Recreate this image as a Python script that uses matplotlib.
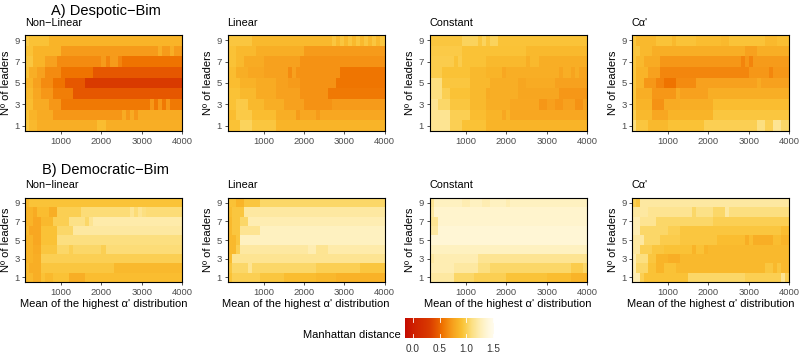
#!/usr/bin/env python3
"""Manhattan distance heatmaps: number of leaders vs mean of the highest alpha' distribution."""

import matplotlib

matplotlib.use("Agg")
import matplotlib.pyplot as plt
import numpy as np
from matplotlib.colors import LinearSegmentedColormap

plt.rcParams["font.family"] = ["Liberation Sans", "DejaVu Sans"]

# x bins of the simulation grid (mean of the highest alpha' distribution)
X_BINS = np.arange(100, 4001, 100)
LEADERS = [1, 2, 3, 4, 5, 6, 7, 8, 9]

# every row (leaders 1..9) is a list of (x where a run starts, Manhattan distance)
DESP_NONLIN = [
    [(100, 0.95), (200, 0.88), (400, 0.82), (1900, 0.9), (2100, 0.82)],
    [(100, 0.92), (200, 0.85), (400, 0.8), (800, 0.7), (2500, 0.8), (2600, 0.7), (2700, 0.8), (2800, 0.7), (2900, 0.8)],
    [(100, 0.9), (300, 0.8), (700, 0.7), (1000, 0.58), (3200, 0.7), (3300, 0.58), (3400, 0.7), (3500, 0.58), (3600, 0.7), (3700, 0.58)],
    [(100, 0.88), (300, 0.78), (500, 0.7), (800, 0.6), (1300, 0.45)],
    [(100, 0.85), (300, 0.75), (500, 0.65), (800, 0.55), (1100, 0.45), (1600, 0.3)],
    [(100, 0.92), (200, 0.82), (400, 0.75), (600, 0.65), (1000, 0.55), (1800, 0.45)],
    [(100, 0.95), (300, 0.85), (600, 0.75), (900, 0.65), (2000, 0.72), (2100, 0.62), (2200, 0.72), (2400, 0.62), (2500, 0.55)],
    [(100, 0.92), (300, 0.85), (1000, 0.72), (3400, 0.82), (3500, 0.72), (3700, 0.82), (3800, 0.72)],
    [(100, 0.97), (200, 0.92), (700, 0.85)],
]
DESP_LIN = [
    [(100, 0.92), (400, 1.02), (700, 0.95), (1300, 0.85)],
    [(100, 0.9), (300, 0.97), (700, 0.9), (1300, 0.82), (1800, 0.72), (1900, 0.78), (2300, 0.72), (2400, 0.78)],
    [(100, 0.92), (300, 0.97), (600, 0.88), (1000, 0.82), (1500, 0.75), (2000, 0.68), (2700, 0.72)],
    [(100, 0.92), (400, 0.88), (800, 0.8), (1300, 0.75), (1900, 0.68), (2600, 0.58)],
    [(100, 0.9), (400, 0.84), (800, 0.8), (1300, 0.75), (1600, 0.72), (1900, 0.68), (2800, 0.56)],
    [(100, 0.9), (300, 0.82), (600, 0.78), (1000, 0.75), (1600, 0.65), (1700, 0.75), (1800, 0.68), (2900, 0.56)],
    [(100, 0.92), (300, 0.88), (500, 0.8), (1000, 0.75), (1900, 0.68)],
    [(100, 0.92), (300, 0.88), (800, 0.82), (2000, 0.72)],
    [(100, 0.95), (700, 0.88), (2700, 0.95), (2800, 0.88), (2900, 0.95), (3000, 0.88), (3100, 0.95), (3200, 0.88),
     (3300, 0.95), (3400, 0.88), (3500, 0.95), (3600, 0.88), (3700, 0.95), (3800, 0.88), (3900, 0.95)],
]
DESP_CONST = [
    [(100, 1.15), (600, 1.0), (900, 0.92), (1500, 0.85)],
    [(100, 1.15), (600, 1.0), (1100, 0.9), (1500, 0.85), (1900, 0.78), (2000, 0.85), (2100, 0.78)],
    [(100, 1.15), (300, 1.05), (600, 0.95), (1100, 0.88), (1500, 0.82), (2100, 0.78), (2800, 0.7), (3000, 0.74),
     (3200, 0.7), (3400, 0.75), (3700, 0.68), (3900, 0.75)],
    [(100, 1.1), (400, 1.0), (600, 0.92), (1100, 0.88), (1500, 0.8), (1600, 0.82), (2300, 0.77), (3300, 0.7)],
    [(100, 1.1), (400, 0.95), (1100, 0.88), (1600, 0.82), (2300, 0.77), (2500, 0.8), (3200, 0.75)],
    [(100, 0.98), (400, 0.92), (1100, 0.88), (1500, 0.85), (1900, 0.78), (2000, 0.82), (3300, 0.76), (3400, 0.82),
     (3600, 0.76), (3700, 0.82), (3800, 0.76)],
    [(100, 0.98), (700, 0.92), (800, 0.98), (900, 0.92), (1500, 0.88), (2500, 0.82), (2600, 0.88), (2800, 0.82)],
    [(100, 0.97), (900, 0.92), (2500, 0.88)],
    [(100, 0.95), (900, 1.02), (1300, 0.95), (1400, 1.02), (1500, 0.95), (1600, 1.02), (1800, 0.93)],
]
DESP_CALPHA = [
    [(100, 1.1), (200, 0.95), (500, 0.88), (1000, 0.92), (1900, 1.0), (3200, 1.1), (3400, 1.0), (3600, 1.15), (3800, 1.05)],
    [(100, 1.0), (200, 0.88), (600, 0.78), (1000, 0.85), (2100, 0.95)],
    [(100, 0.95), (200, 0.85), (600, 0.68), (900, 0.8), (1300, 0.82), (2100, 0.9)],
    [(100, 0.95), (200, 0.82), (600, 0.7), (1200, 0.8), (1300, 0.75), (2000, 0.82)],
    [(100, 0.95), (200, 0.85), (400, 0.7), (700, 0.62), (900, 0.55), (1200, 0.65), (1700, 0.75), (3200, 0.8), (3300, 0.75)],
    [(100, 0.95), (200, 0.85), (500, 0.75), (800, 0.63), (3000, 0.7), (3500, 0.63), (3600, 0.7)],
    [(100, 0.95), (200, 0.88), (400, 0.8), (800, 0.7), (2800, 0.62), (2900, 0.7), (3000, 0.62), (3100, 0.72)],
    [(100, 0.95), (300, 0.88), (600, 0.82), (2900, 0.75), (3200, 0.82)],
    [(100, 0.95), (200, 0.88), (700, 0.93), (1100, 0.88), (1200, 0.93), (1700, 0.9), (2300, 0.88), (2500, 0.93),
     (3400, 0.88), (3700, 0.91)],
]
DEMO_NONLIN = [
    [(100, 0.88), (300, 0.82), (500, 0.92), (600, 0.88), (800, 0.92), (1200, 0.82), (1600, 0.9)],
    [(100, 0.88), (200, 0.82), (500, 0.95), (2300, 0.88)],
    [(100, 0.85), (300, 0.82), (500, 1.0)],
    [(100, 0.85), (300, 0.8), (500, 0.95), (900, 1.05), (1200, 1.0), (1300, 1.05), (2000, 1.0), (2100, 1.08)],
    [(100, 0.85), (300, 0.78), (500, 0.92), (900, 1.1)],
    [(100, 0.88), (200, 0.78), (500, 0.92), (900, 1.05), (1300, 1.2)],
    [(100, 0.85), (300, 0.78), (500, 0.88), (800, 1.0), (1200, 1.12), (1600, 1.05), (1700, 1.15), (1800, 1.22)],
    [(100, 0.85), (300, 0.8), (400, 0.9), (700, 0.82), (900, 1.0), (1500, 1.08), (2700, 1.15), (2800, 1.08),
     (2900, 1.15), (3000, 1.1), (3100, 1.08)],
    [(100, 0.88), (200, 0.93)],
]
DEMO_LIN = [
    [(100, 0.92), (200, 1.0), (900, 0.95), (1500, 0.9), (2300, 0.87), (2800, 0.84)],
    [(100, 0.95), (200, 1.05), (600, 1.15), (700, 1.05), (2300, 1.0), (3400, 0.95)],
    [(100, 0.9), (200, 1.15)],
    [(100, 0.88), (300, 1.0), (400, 1.2), (2100, 1.25), (2300, 1.15), (2600, 1.22)],
    [(100, 0.88), (300, 0.95), (400, 1.3)],
    [(100, 0.88), (200, 0.95), (400, 1.15), (900, 1.3)],
    [(100, 0.88), (200, 0.95), (400, 1.05), (600, 1.25)],
    [(100, 0.9), (200, 0.95), (500, 1.2)],
    [(100, 0.92), (300, 0.85), (500, 0.95), (900, 1.05)],
]
DEMO_CONST = [
    [(100, 1.2), (700, 1.05), (1200, 1.0), (2000, 0.93), (3000, 0.9), (3600, 0.85)],
    [(100, 1.25), (700, 1.2), (1300, 1.1), (1600, 1.05), (3600, 0.98), (3900, 1.05)],
    [(100, 1.2), (200, 1.25), (1300, 1.15)],
    [(100, 1.3)],
    [(100, 1.38)],
    [(100, 1.2), (300, 1.38)],
    [(100, 1.15), (300, 1.35)],
    [(100, 1.2), (200, 1.35)],
    [(100, 1.15), (200, 1.3), (900, 1.25), (1100, 1.3), (1400, 1.25), (1600, 1.3), (2000, 1.25), (2100, 1.3)],
]
DEMO_CALPHA = [
    [(100, 1.25), (300, 1.0), (400, 0.92), (1500, 1.05), (2900, 1.0), (3800, 1.15), (3900, 1.0)],
    [(100, 1.25), (200, 1.05), (500, 0.92), (700, 0.85), (900, 0.92), (1200, 0.88), (3400, 0.95), (3600, 0.88),
     (3700, 0.95), (3800, 0.88)],
    [(100, 1.25), (200, 1.1), (500, 0.95), (700, 0.85), (1000, 0.82), (1300, 0.88)],
    [(100, 1.2), (300, 1.0), (600, 0.95), (900, 0.92), (1600, 0.85), (1700, 0.92), (1900, 0.85), (2000, 0.88)],
    [(100, 1.2), (400, 1.05), (800, 0.98), (1300, 0.95), (2200, 0.9), (2900, 0.82), (3000, 0.9), (3100, 0.82),
     (3600, 0.9), (3800, 0.85)],
    [(100, 1.25), (300, 1.05), (1000, 1.0), (1300, 0.95), (3800, 0.9)],
    [(100, 1.25), (300, 1.15), (700, 1.05), (2100, 1.0)],
    [(100, 1.2), (500, 1.15), (1600, 1.05), (1700, 1.12), (2100, 1.05), (2400, 1.2), (2500, 1.1)],
    [(100, 1.0), (200, 0.95), (300, 1.2)],
]

ROW_TITLES = ["A) Despotic\u2212Bim", "B) Democratic\u2212Bim"]
PANEL_TITLES = [
    ["Non\u2212Linear", "Linear", "Constant", "C\u03b1'"],
    ["Non\u2212linear", "Linear", "Constant", "C\u03b1'"],
]
PANEL_DATA = [
    [DESP_NONLIN, DESP_LIN, DESP_CONST, DESP_CALPHA],
    [DEMO_NONLIN, DEMO_LIN, DEMO_CONST, DEMO_CALPHA],
]
CBAR_TICKS = [0.0, 0.5, 1.0, 1.5]

VMIN, VMAX = -0.15, 1.52
STOPS = [
    (-0.15, "#C40A00"), (0.0, "#CF1F00"), (0.3, "#D93A00"), (0.45, "#E65800"),
    (0.55, "#EF7300"), (0.65, "#F48B10"), (0.75, "#F7A21E"), (0.85, "#F9B428"),
    (0.92, "#FAC134"), (1.0, "#FBCF52"), (1.1, "#FCDF80"), (1.25, "#FEEDB2"),
    (1.4, "#FFF7DA"), (1.52, "#FFFCEE"),
]
CMAP = LinearSegmentedColormap.from_list(
    "manhattan", [((v - VMIN) / (VMAX - VMIN), c) for v, c in STOPS]
)

W, H = 800, 355


def expand(segments):
    starts = X_BINS[:-1]
    vals = np.empty(len(starts))
    for i, (start, v) in enumerate(segments):
        end = segments[i + 1][0] if i + 1 < len(segments) else X_BINS[-1]
        vals[(starts >= start) & (starts < end)] = v
    return vals


def px_axes(fig, left, top, right, bottom):
    return fig.add_axes([left / W, 1 - bottom / H, (right - left) / W, (bottom - top) / H])


def main():
    fig = plt.figure(figsize=(W / 100, H / 100), dpi=100)
    cols = [(25, 182), (227.5, 384.5), (429.5, 587), (632, 789)]
    rows = [(35, 131), (198, 282)]
    sub_y = [22.5, 185.5]
    title_y = [11, 170]

    for r, (top, bottom) in enumerate(rows):
        fig.text(106 / W, 1 - title_y[r] / H, ROW_TITLES[r], ha="center", va="center", fontsize=10.5)
        for c, (left, right) in enumerate(cols):
            ax = px_axes(fig, left, top, right, bottom)
            grid = np.array([expand(row) for row in PANEL_DATA[r][c]])
            y_edges = np.arange(0.5, len(LEADERS) + 1, 1.0)
            ax.pcolormesh(X_BINS, y_edges, grid, cmap=CMAP, vmin=VMIN, vmax=VMAX,
                          shading="flat", edgecolors="face", linewidth=0)
            ax.set_xlim(X_BINS[0], X_BINS[-1])
            ax.set_ylim(0.5, 9.5)
            ax.set_xticks([1000, 2000, 3000, 4000])
            ax.set_yticks([1, 3, 5, 7, 9])
            ax.tick_params(length=2.5, width=0.6, color="#333333", labelsize=6.8,
                           labelcolor="#4D4D4D", pad=1.5)
            for sp in ax.spines.values():
                sp.set_linewidth(0.8)
                sp.set_color("black")
            ax.set_ylabel("N\u00ba of leaders", fontsize=8, labelpad=2.5)
            if r == 1:
                ax.set_xlabel("Mean of the highest \u03b1' distribution", fontsize=8, labelpad=2)
            fig.text(left / W, 1 - sub_y[r] / H, PANEL_TITLES[r][c], ha="left", va="center", fontsize=7.8)

    # colour bar
    cax = px_axes(fig, 405, 318, 494, 338)
    grad = np.linspace(VMIN, VMAX, 256)[None, :]
    cax.imshow(grad, cmap=CMAP, vmin=VMIN, vmax=VMAX, aspect="auto",
               extent=(VMIN, VMAX, 0, 1), interpolation="bilinear")
    for t in CBAR_TICKS:
        cax.plot([t, t], [0, 0.2], color="white", lw=0.6)
        cax.plot([t, t], [0.8, 1], color="white", lw=0.6)
    cax.set_xlim(VMIN, VMAX)
    cax.set_ylim(0, 1)
    cax.set_xticks(CBAR_TICKS)
    cax.set_xticklabels([f"{t:.1f}" for t in CBAR_TICKS])
    cax.set_yticks([])
    cax.tick_params(length=0, labelsize=7.2, labelcolor="#333333", pad=4)
    for sp in cax.spines.values():
        sp.set_visible(False)
    fig.text(401 / W, 1 - 335 / H, "Manhattan distance", ha="right", va="center", fontsize=8)

    fig.savefig("out.png", dpi=100)


if __name__ == "__main__":
    main()
